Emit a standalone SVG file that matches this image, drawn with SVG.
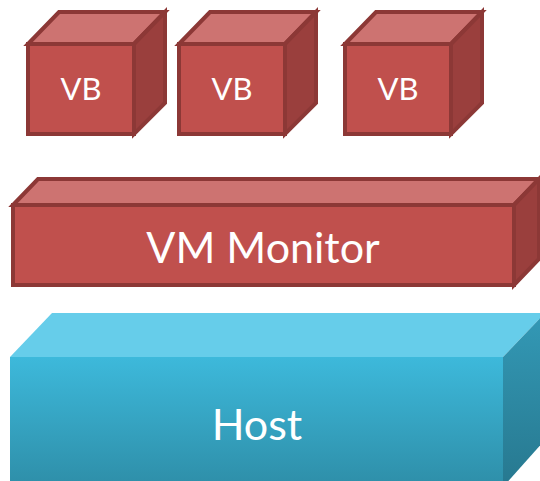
<svg xmlns="http://www.w3.org/2000/svg" width="540" height="481" viewBox="0 0 540 481">
<defs>
<style>
.rf{fill:#C0504D;stroke:#8C3836;stroke-width:4;stroke-linejoin:miter}
.rt{fill:#CD7371;stroke:#8C3836;stroke-width:4;stroke-linejoin:miter}
.rr{fill:#9A3F3D;stroke:#8C3836;stroke-width:4;stroke-linejoin:miter}
.lbl{font-family:Lato,"Open Sans","Liberation Sans",sans-serif;fill:#FFFFFF;text-anchor:middle}
</style>
<linearGradient id="hf" x1="0" y1="0" x2="0" y2="1">
<stop offset="0" stop-color="#3DB9DB"/>
<stop offset="1" stop-color="#2E8EA8"/>
</linearGradient>
<linearGradient id="hr" x1="0" y1="0" x2="0" y2="1">
<stop offset="0" stop-color="#3399B6"/>
<stop offset="1" stop-color="#27788F"/>
</linearGradient>
<g id="cube">
<polygon class="rt" points="28,44 59,12 165,12 134,44"/>
<polygon class="rr" points="134,44 165,12 165,103 134,134"/>
<rect class="rf" x="28" y="44" width="106" height="90"/>
</g>
</defs>
<g id="vb1">
<use href="#cube"/>
<text class="lbl" x="81" y="100" font-size="31">VB</text>
</g>
<g id="vb2">
<use href="#cube" transform="translate(151,0)"/>
<text class="lbl" x="232" y="100" font-size="31">VB</text>
</g>
<g id="vb3">
<use href="#cube" transform="translate(317,0)"/>
<text class="lbl" x="398" y="100" font-size="31">VB</text>
</g>
<g id="vm-monitor">
<polygon class="rt" points="13,205 38,179 539,179 514,205"/>
<polygon class="rr" points="514,205 539,179 539,259 514,285"/>
<rect class="rf" x="13" y="205" width="501" height="80"/>
<text class="lbl" x="263" y="263" font-size="43">VM Monitor</text>
</g>
<g id="host">
<polygon fill="#66CDEA" points="10,357 52,313 545,313 503,357"/>
<polygon fill="url(#hr)" points="503,357 545,313 545,440 503,487"/>
<rect fill="url(#hf)" x="10" y="357" width="493" height="130"/>
<text class="lbl" x="257" y="440" font-size="43">Host</text>
</g>
<g id="connectors"/>
</svg>
